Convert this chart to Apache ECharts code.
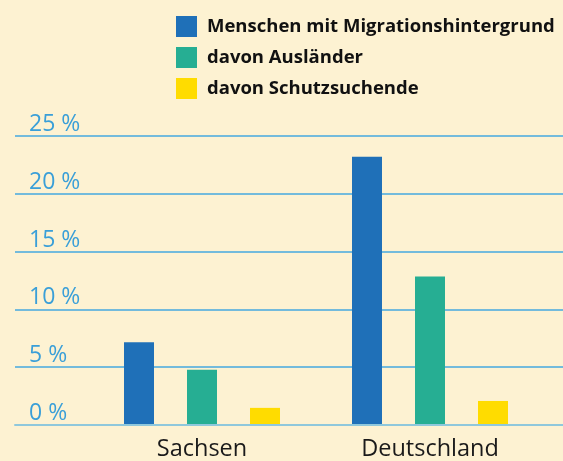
<!DOCTYPE html>
<html>
<head>
<meta charset="utf-8">
<script src="https://cdn.jsdelivr.net/npm/echarts@6/dist/echarts.min.js"></script>
<style>
  html, body { margin: 0; padding: 0; background: #fdf2d2; }
  #chart { width: 563px; height: 461px; }
</style>
</head>
<body>
<div id="chart"></div>
<script>
// Anteil an der Bevölkerung in %
const categories = ["Sachsen", "Deutschland"];
const seriesNames = [
  "Menschen mit Migrationshintergrund",
  "davon Ausländer",
  "davon Schutzsuchende",
];
const migration = [7.1, 23.2];
const auslaender = [4.7, 12.8];
const schutz = [1.4, 2.0];
const colors = ["#1f70b8", "#26ae93", "#ffdc00"];

let myChart = echarts.init(document.getElementById("chart"));

let seriesList = [migration, auslaender, schutz].map((data, i) => ({
  name: seriesNames[i],
  type: "bar",
  xAxisIndex: 1,
  yAxisIndex: 1,
  barWidth: 30,
  barGap: "110%",
  itemStyle: { color: colors[i] },
  data: data,
}));

let option = {
  backgroundColor: "#fdf2d2",
  animation: false,
  legend: {
    orient: "vertical",
    left: 171,
    top: 11,
    itemWidth: 21,
    itemHeight: 21,
    itemGap: 10,
    icon: "rect",
    data: seriesNames,
    textStyle: {
      fontFamily: "Open Sans",
      fontWeight: "bold",
      fontSize: 18.5,
      color: "#111",
      padding: [0, 0, 0, 5],
    },
  },
  grid: [
    { left: 15, right: 0, top: 136, bottom: 36 },
    { left: 88, right: 19, top: 136, bottom: 36 },
  ],
  xAxis: [
    {
      gridIndex: 0,
      type: "value",
      min: 0,
      max: 1,
      axisLabel: { show: false },
      axisTick: { show: false },
      splitLine: { show: false },
      axisLine: { show: true, lineStyle: { color: "#8fc8dc", width: 2 } },
    },
    {
      gridIndex: 1,
      type: "category",
      data: categories,
      axisLine: { show: false },
      axisTick: { show: false },
      axisLabel: {
        margin: 13,
        fontFamily: "Open Sans",
        fontSize: 23.5,
        color: "#1a1a1a",
      },
    },
  ],
  yAxis: [
    {
      gridIndex: 0,
      type: "value",
      min: 0,
      max: 25,
      interval: 5,
      axisLine: { show: false },
      axisTick: { show: false },
      axisLabel: {
        inside: true,
        margin: 14,
        verticalAlign: "bottom",
        fontFamily: "Open Sans",
        fontSize: 23,
        color: "#3a9fd8",
        formatter: (v) => v + " %",
      },
      splitLine: { lineStyle: { color: "#45a8df", width: 1.5 } },
    },
    {
      gridIndex: 1,
      type: "value",
      min: 0,
      max: 25,
      interval: 5,
      show: false,
      splitLine: { show: false },
    },
  ],
  series: seriesList,
};
myChart.setOption(option);
</script>
</body>
</html>
